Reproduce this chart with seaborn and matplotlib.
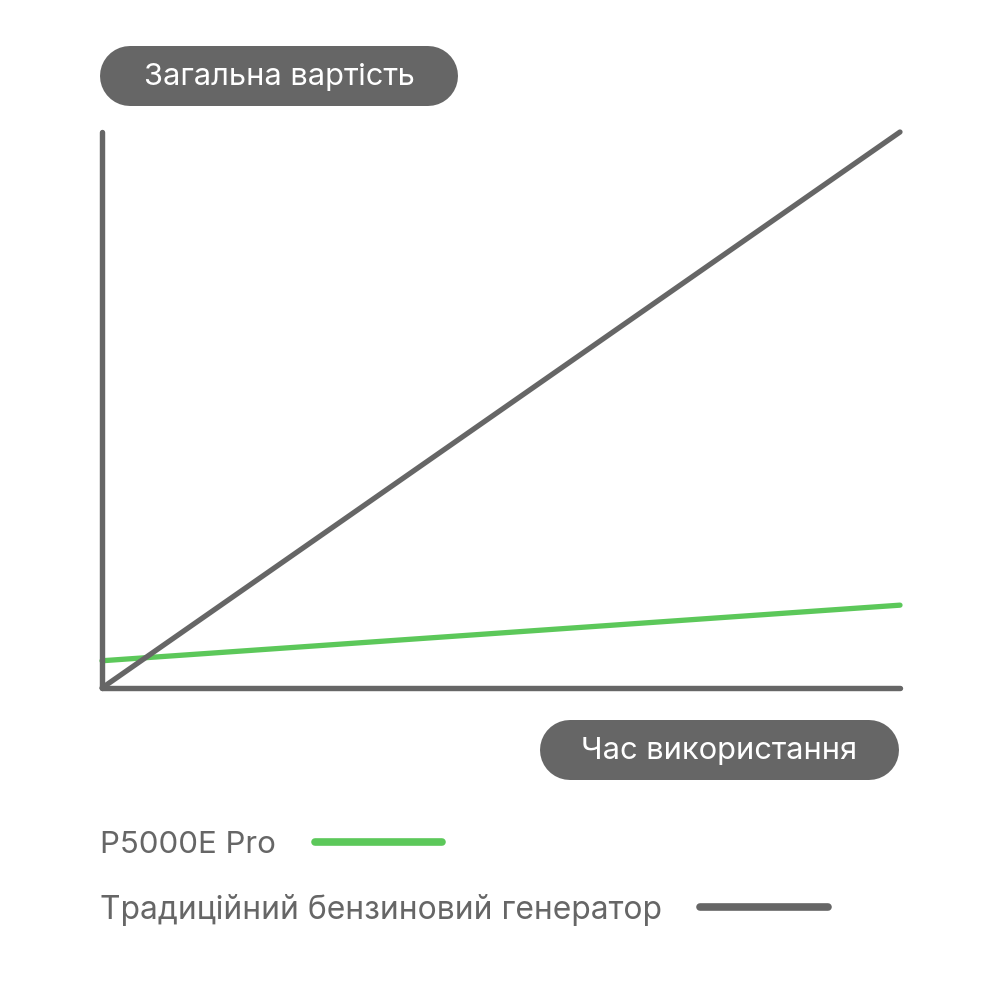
import matplotlib
matplotlib.use("Agg")
import matplotlib.pyplot as plt
import seaborn as sns
import pandas as pd

# ---- data ----
time_points = [0, 10]
traditional_cost = [0, 100]
p5000e_cost = [4.9, 14.9]
series_names = ["P5000E Pro", "Традиційний бензиновий генератор"]
y_label = "Загальна вартість"
x_label = "Час використання"

GRAY = "#666666"
GREEN = "#5cc85a"

sns.set_theme(style="white")
plt.rcParams['font.family'] = ['Inter', 'DejaVu Sans']

df = pd.DataFrame({
    "time": time_points * 2,
    "cost": p5000e_cost + traditional_cost,
    "series": [series_names[0]] * 2 + [series_names[1]] * 2,
})

fig = plt.figure(figsize=(10, 10), dpi=100)
ax = fig.add_axes([0.102, 0.312, 0.798, 0.556])
sns.lineplot(data=df, x="time", y="cost", hue="series",
             palette={series_names[0]: GREEN, series_names[1]: GRAY},
             linewidth=3.8, ax=ax, legend=False,
             solid_capstyle="round")
ax.set_xlim(0, 10)
ax.set_ylim(0, 100)
ax.set_xticks([]); ax.set_yticks([])
ax.set_xlabel(""); ax.set_ylabel("")
for s in ["top", "right"]:
    ax.spines[s].set_visible(False)
for s in ["left", "bottom"]:
    ax.spines[s].set_color(GRAY)
    ax.spines[s].set_linewidth(3.9)
    ax.spines[s].set_capstyle("round")
for ln in ax.lines:
    ln.set_clip_on(False)

# overlay in pixel coordinates
ov = fig.add_axes([0, 0, 1, 1], facecolor="none")
ov.set_xlim(0, 1000); ov.set_ylim(1000, 0)
ov.axis("off")

PX = 72 / 100  # points per pixel

def pill(x0, y0, x1, y1, text):
    h = y1 - y0
    yc = (y0 + y1) / 2
    ov.plot([x0 + h / 2, x1 - h / 2], [yc, yc], color=GRAY,
            lw=h * PX, solid_capstyle="round")
    ov.text((x0 + x1) / 2, yc + 1, text, color="white",
            fontsize=22.2, ha="center", va="center")

pill(100, 46, 458, 106, y_label)
pill(540, 720, 899, 780, x_label)

ov.text(100, 845, series_names[0], color=GRAY, fontsize=22.5, ha="left", va="center")
ov.plot([315, 442], [842, 842], color=GREEN, lw=5.5, solid_capstyle="round")
ov.text(100, 910, series_names[1], color=GRAY, fontsize=22.9, ha="left", va="center")
ov.plot([700, 828], [907, 907], color=GRAY, lw=5.5, solid_capstyle="round")

fig.savefig("out.png", dpi=100)
